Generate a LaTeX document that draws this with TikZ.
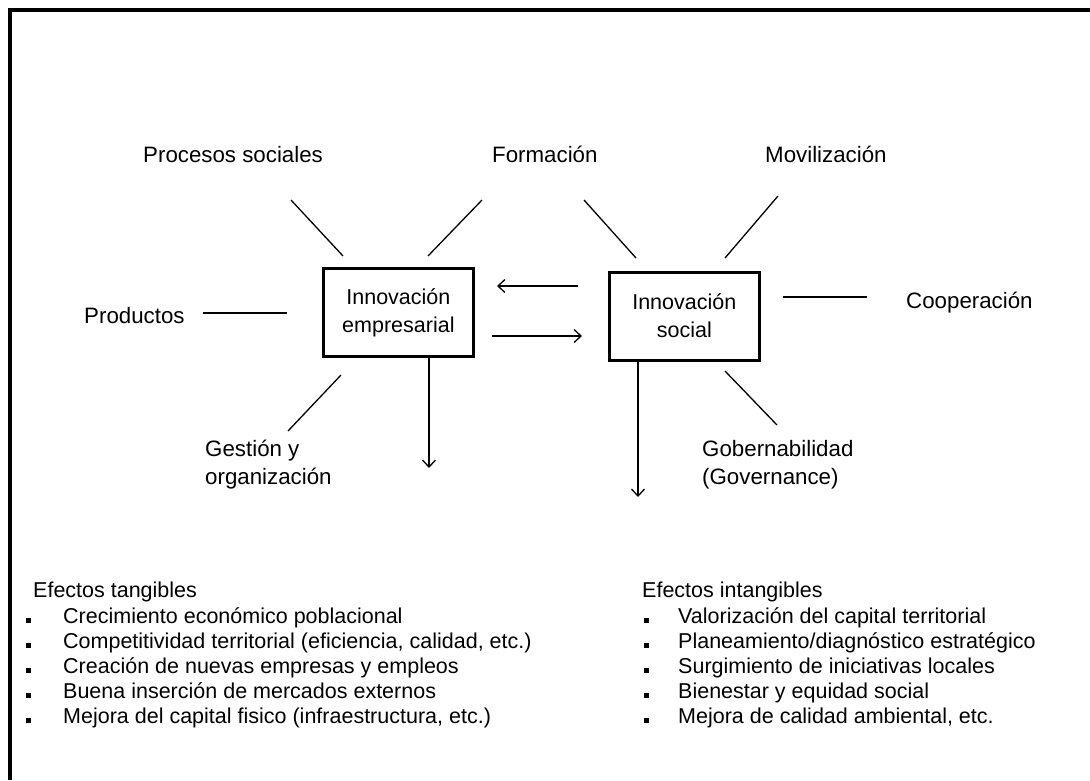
\documentclass[tikz,border=0pt]{standalone}
\usepackage{fontspec}
\setmainfont{Liberation Sans}
\usetikzlibrary{arrows.meta}

\newcommand{\vineta}{\rule{5pt}{5pt}}

\begin{document}
\begin{tikzpicture}[x=1pt,y=-1pt,
    every node/.style={inner sep=0pt,font=\fontsize{21.5}{28}\selectfont},
    lbl/.style={anchor=base west,align=left},
    tit/.style={lbl,font=\fontsize{22.3}{28}\selectfont},
    innov/.style={draw,line width=3pt,minimum width=150pt,minimum height=88pt,align=center},
    fino/.style={line width=1.3pt},
    flecha/.style={line width=1.3pt,-{Straight Barb[length=7pt,width=13pt,line width=1.3pt]}}]
    \useasboundingbox (0,0) rectangle (1090,780);
    \draw[line width=3.5pt] (10,780) -- (10,10) -- (1090,10);

    % cajas
    \node[innov] (emp) at (398.4,312.5) {Innovación\\empresarial};
    \node[innov] (soc) at (684.3,316) {Innovación\\social};

    % etiquetas
    \node[tit] (proc) at (143,162) {Procesos sociales};
    \node[tit] (form) at (492,162) {Formación};
    \node[tit] (movi) at (765,162) {Movilización};
    \node[tit] (prod) at (84,323) {Productos};
    \node[tit] (coop) at (906,308) {Cooperación};
    \node[tit] (gest) at (205,484) {Gestión y\\organización};
    \node[tit] (gobe) at (702,484) {Gobernabilidad\\(Governance)};

    % extremos de las rayas
    \coordinate (p1) at (291,200);  \coordinate (p2) at (343,256);
    \coordinate (f1) at (482,200);  \coordinate (f2) at (428,256);
    \coordinate (f3) at (584,200);  \coordinate (f4) at (636,258);
    \coordinate (m1) at (778,196);  \coordinate (m2) at (725,258);
    \coordinate (r1) at (203,313);  \coordinate (r2) at (287,313);
    \coordinate (c1) at (783,297);  \coordinate (c2) at (867,297);
    \coordinate (g1) at (341,375);  \coordinate (g2) at (288,431);
    \coordinate (b1) at (725,371);  \coordinate (b2) at (777,425);
    \coordinate (a1) at (578,286);  \coordinate (a2) at (497,286);
    \coordinate (a3) at (492,336);  \coordinate (a4) at (582,336);
    \coordinate (e1) at (429,468);
    \coordinate (e2) at (638,497);

    \draw[fino] (p1) -- (p2);
    \draw[fino] (f1) -- (f2);
    \draw[fino] (f3) -- (f4);
    \draw[fino] (m1) -- (m2);
    \draw[fino] (r1) -- (r2);
    \draw[fino] (c1) -- (c2);
    \draw[fino] (g1) -- (g2);
    \draw[fino] (b1) -- (b2);

    \draw[flecha] (a1) -- (a2);
    \draw[flecha] (a3) -- (a4);
    \draw[flecha] (e1 |- emp.south) -- (e1);
    \draw[flecha] (e2 |- soc.south) -- (e2);

    % efectos tangibles
    \node[lbl] (tang) at (33,597) {Efectos tangibles};
    \node[lbl] (t1b) at (26,623) {\vineta};
    \node[lbl] (t1) at (63,623) {Crecimiento económico poblacional};
    \node[lbl] (t2b) at (26,648) {\vineta};
    \node[lbl] (t2) at (63,648) {Competitividad territorial (eficiencia, calidad, etc.)};
    \node[lbl] (t3b) at (26,673) {\vineta};
    \node[lbl] (t3) at (63,673) {Creación de nuevas empresas y empleos};
    \node[lbl] (t4b) at (26,698) {\vineta};
    \node[lbl] (t4) at (63,698) {Buena inserción de mercados externos};
    \node[lbl] (t5b) at (26,723) {\vineta};
    \node[lbl] (t5) at (63,723) {Mejora del capital fisico (infraestructura, etc.)};

    % efectos intangibles
    \node[lbl] (intg) at (642,597) {Efectos intangibles};
    \node[lbl] (i1b) at (644,623) {\vineta};
    \node[lbl] (i1) at (678,623) {Valorización del capital territorial};
    \node[lbl] (i2b) at (644,648) {\vineta};
    \node[lbl] (i2) at (678,648) {Planeamiento/diagnóstico estratégico};
    \node[lbl] (i3b) at (644,673) {\vineta};
    \node[lbl] (i3) at (678,673) {Surgimiento de iniciativas locales};
    \node[lbl] (i4b) at (644,698) {\vineta};
    \node[lbl] (i4) at (678,698) {Bienestar y equidad social};
    \node[lbl] (i5b) at (644,723) {\vineta};
    \node[lbl] (i5) at (678,723) {Mejora de calidad ambiental, etc.};
\end{tikzpicture}
\end{document}
